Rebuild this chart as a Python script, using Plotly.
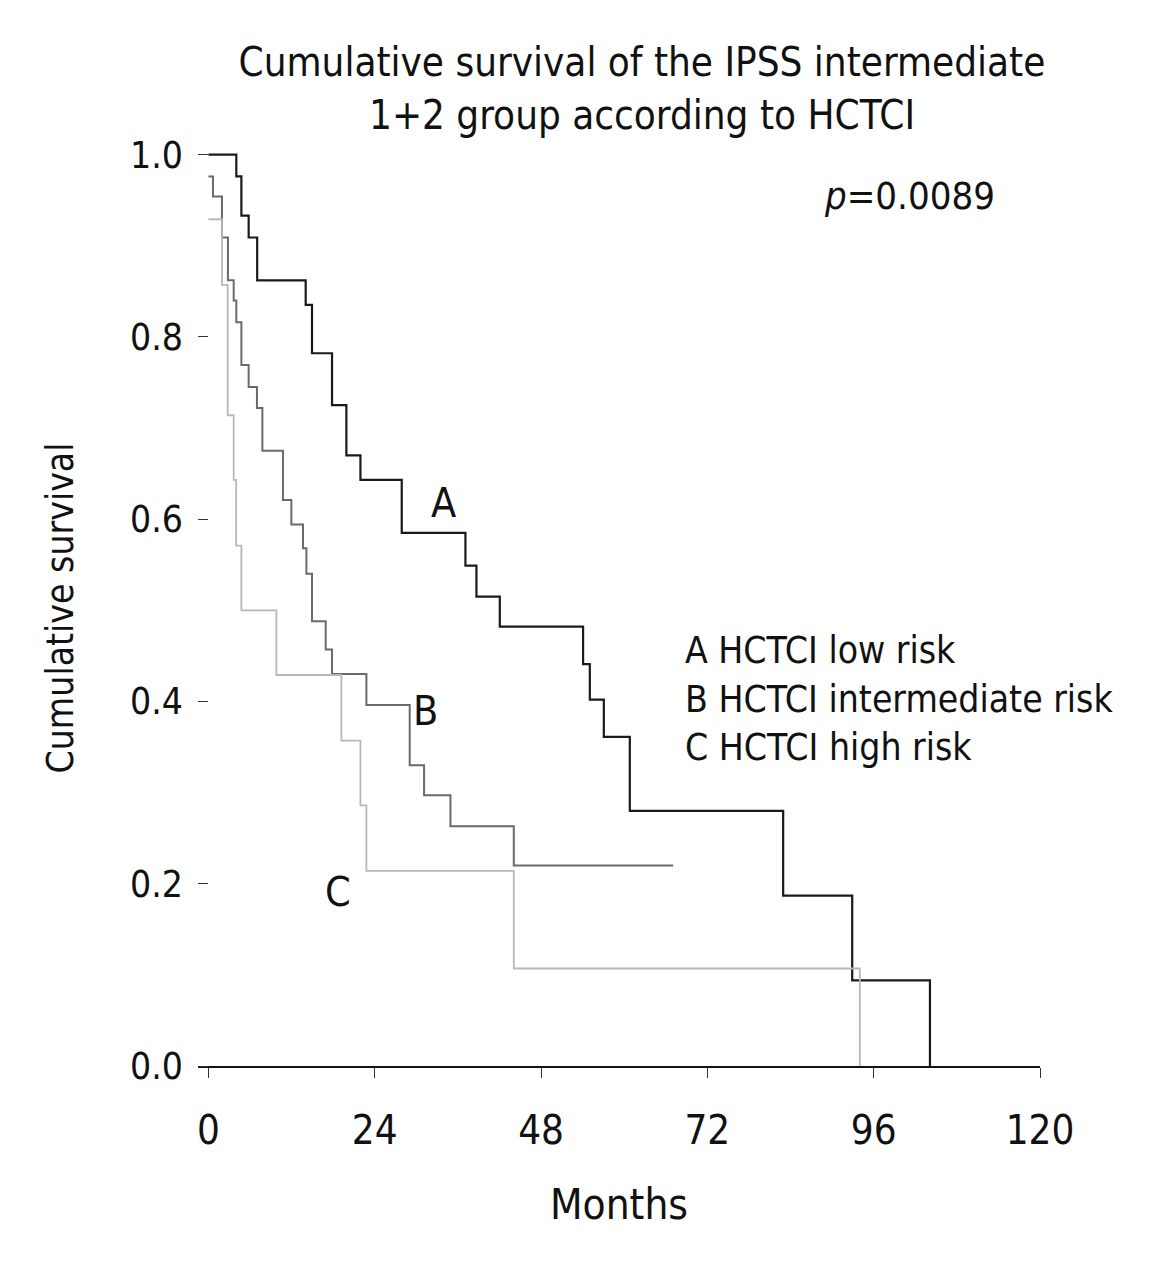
import plotly.graph_objects as go

# ---- data (months, cumulative survival) ----
months_A = [0, 4.03, 4.76, 5.81, 7.04, 14.04, 14.95, 17.84, 19.91, 21.94, 27.90,
            37.09, 38.68, 42.05, 54.07, 55.04, 57.06, 60.81, 82.94, 92.90, 104.12]
surv_A = [1.0, 0.976, 0.933, 0.909, 0.862, 0.835, 0.782, 0.725, 0.670, 0.643, 0.585,
          0.549, 0.515, 0.482, 0.441, 0.402, 0.361, 0.280, 0.187, 0.094, 0.0]

months_B = [0, 0.66, 1.96, 2.82, 3.65, 4.03, 4.76, 5.81, 7.01, 7.79, 10.76, 11.97,
            13.65, 14.14, 14.95, 16.93, 17.84, 22.80, 29.05, 31.12, 34.93, 44.07, 67.06]
surv_B = [0.976, 0.954, 0.909, 0.862, 0.840, 0.816, 0.769, 0.745, 0.722, 0.675, 0.621, 0.594,
          0.568, 0.540, 0.488, 0.457, 0.430, 0.396, 0.330, 0.297, 0.263, 0.220, 0.220]

months_C = [0, 1.96, 2.78, 3.65, 4.0, 4.76, 9.81, 19.19, 21.94, 22.80, 44.07, 94.0]
surv_C = [0.929, 0.857, 0.714, 0.643, 0.571, 0.500, 0.429, 0.357, 0.286, 0.214, 0.107, 0.0]

x_ticks = [0, 24, 48, 72, 96, 120]
y_ticks = [0.0, 0.2, 0.4, 0.6, 0.8, 1.0]
y_tick_labels = ["0.0", "0.2", "0.4", "0.6", "0.8", "1.0"]

group_labels = ["A", "B", "C"]
label_pos_x = [33.9, 31.3, 18.7]
label_pos_y = [0.618, 0.389, 0.191]
legend_lines = ["A HCTCI low risk", "B HCTCI intermediate risk", "C HCTCI high risk"]
legend_y = [0.4555, 0.4018, 0.349]
p_text = "<i>p</i>=0.0089"

title_line1 = "Cumulative survival of the IPSS intermediate"
title_line2 = "1+2 group according to HCTCI"

FONT = "DejaVu Sans Condensed, Liberation Sans Narrow, Arial Narrow, sans-serif"
INK = "#111111"

fig = go.Figure()
series = [
    (months_A, surv_A, "#1a1a1a", 2.2, "A"),
    (months_B, surv_B, "#6a6a6a", 2.0, "B"),
    (months_C, surv_C, "#b8b8b8", 1.8, "C"),
]
for xs, ys, col, w, nm in series:
    fig.add_trace(go.Scatter(x=xs, y=ys, mode="lines", line=dict(shape="hv", color=col, width=w),
                             name=nm, showlegend=False, hoverinfo="skip"))

for t, xv, yv in zip(group_labels, label_pos_x, label_pos_y):
    fig.add_annotation(x=xv, y=yv, xref="x", yref="y", text=t, showarrow=False,
                       font=dict(family=FONT, size=41, color=INK))

for t, yv in zip(legend_lines, legend_y):
    fig.add_annotation(x=68.5, y=yv, xref="x", yref="y", text=t, showarrow=False,
                       xanchor="left", font=dict(family=FONT, size=37, color=INK))

fig.add_annotation(x=101.2, y=0.954, xref="x", yref="y", text=p_text, showarrow=False,
                   font=dict(family=FONT, size=38, color=INK))

# second title line (paper coordinates of the plot area)
fig.add_annotation(x=(642 - 198) / 842, y=(1066 - 115) / 916, xref="paper", yref="paper",
                   text=title_line2, showarrow=False, xanchor="center", yanchor="middle",
                   font=dict(family=FONT, size=40, color=INK))

fig.update_layout(
    width=1176, height=1280,
    paper_bgcolor="white", plot_bgcolor="white",
    margin=dict(l=190, r=144, t=142, b=222),
    title=dict(text=title_line1, x=(642 - 8) / 1176, xanchor="center", y=1 - 54 / 1280,
               yanchor="middle", xref="container", yref="container",
               font=dict(family=FONT, size=40, color=INK)),
    font=dict(family=FONT, color=INK),
)

fig.update_xaxes(
    range=[-1.5, 120], tickvals=x_ticks, ticktext=[str(v) for v in x_ticks],
    showline=True, linecolor="#111111", linewidth=2, showgrid=False, zeroline=False,
    ticks="outside", ticklen=10, tickwidth=1.2, tickcolor="#333333",
    ticklabelstandoff=18,
    tickfont=dict(family=FONT, size=40, color=INK),
    title=dict(text="Months", font=dict(family=FONT, size=42, color=INK), standoff=38),
)

fig.update_yaxes(
    range=[0, 1.005], tickvals=y_ticks, ticktext=y_tick_labels,
    anchor="free", position=10.4 / 842,
    showline=False, showgrid=False, zeroline=False,
    ticks="outside", ticklen=10, tickwidth=1.2, tickcolor="#333333",
    ticklabelstandoff=8,
    tickfont=dict(family=FONT, size=37, color=INK),
    title=dict(text="Cumulative survival", font=dict(family=FONT, size=37, color=INK), standoff=44),
)

fig.write_html("out.html")
